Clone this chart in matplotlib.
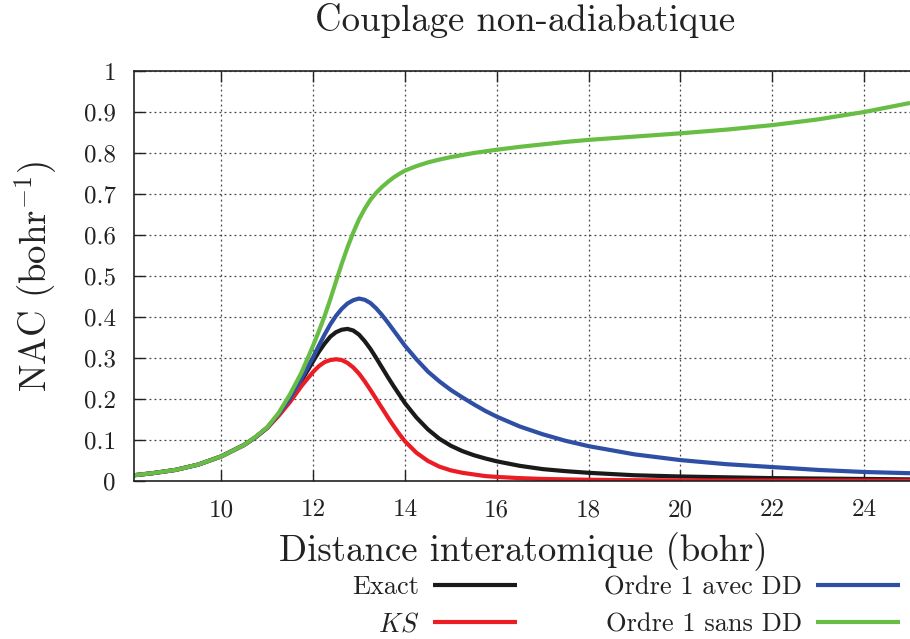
import matplotlib
matplotlib.use("Agg")
import matplotlib.pyplot as plt
from matplotlib.ticker import FuncFormatter, MultipleLocator

plt.rcParams['font.family'] = ['cmr10']
plt.rcParams['mathtext.fontset'] = 'cm'
plt.rcParams['axes.unicode_minus'] = False
plt.rcParams['axes.formatter.use_mathtext'] = True

# ---- data ----
x = [8.1, 8.5, 9, 9.5, 10, 10.5, 10.75, 11, 11.25, 11.5, 11.75,
     12, 12.125, 12.25, 12.375, 12.5, 12.625, 12.75, 12.875,
     13, 13.125, 13.25, 13.375, 13.5, 13.625, 13.75, 13.875,
     14, 14.25, 14.5, 14.75, 15, 15.25, 15.5, 15.75, 16, 16.5, 17, 17.5, 18,
     19, 20, 21, 22, 23, 24, 25]

exact = [0.014, 0.019, 0.027, 0.040, 0.060, 0.088, 0.107, 0.130, 0.162, 0.200, 0.245,
         0.292, 0.315, 0.335, 0.352, 0.363, 0.369, 0.371, 0.367,
         0.357, 0.341, 0.322, 0.300, 0.277, 0.254, 0.232, 0.211,
         0.190, 0.155, 0.126, 0.103, 0.086, 0.073, 0.063, 0.055, 0.048, 0.037, 0.029, 0.024, 0.020,
         0.014, 0.011, 0.009, 0.007, 0.006, 0.005, 0.004]

ks = [0.014, 0.019, 0.027, 0.040, 0.060, 0.088, 0.107, 0.129, 0.159, 0.193, 0.232,
      0.266, 0.280, 0.290, 0.295, 0.297, 0.295, 0.288, 0.277,
      0.262, 0.243, 0.222, 0.200, 0.178, 0.156, 0.135, 0.115,
      0.097, 0.069, 0.049, 0.035, 0.026, 0.020, 0.016, 0.012, 0.010, 0.007, 0.005, 0.004, 0.003,
      0.002, 0.0015, 0.001, 0.001, 0.001, 0.001, 0.001]

avec_dd = [0.014, 0.019, 0.027, 0.040, 0.060, 0.088, 0.107, 0.130, 0.163, 0.202, 0.250,
           0.302, 0.330, 0.357, 0.382, 0.403, 0.420, 0.433, 0.441,
           0.445, 0.442, 0.434, 0.421, 0.405, 0.387, 0.368, 0.349,
           0.330, 0.297, 0.267, 0.243, 0.222, 0.204, 0.187, 0.171, 0.157, 0.133, 0.114, 0.098, 0.085,
           0.065, 0.051, 0.041, 0.034, 0.027, 0.022, 0.019]

sans_dd = [0.014, 0.019, 0.027, 0.040, 0.060, 0.088, 0.108, 0.131, 0.166, 0.212, 0.265,
           0.330, 0.365, 0.402, 0.443, 0.487, 0.530, 0.570, 0.606,
           0.638, 0.664, 0.686, 0.703, 0.717, 0.729, 0.740, 0.749,
           0.757, 0.768, 0.777, 0.784, 0.790, 0.795, 0.800, 0.804, 0.808, 0.815, 0.821, 0.827, 0.832,
           0.840, 0.848, 0.857, 0.868, 0.882, 0.900, 0.922]

labels = ['Exact', r'$KS$', 'Ordre 1 avec DD', 'Ordre 1 sans DD']
colors = ['#1a1a1a', '#ec1c24', '#2f4fa5', '#68bd45']
series = [exact, ks, avec_dd, sans_dd]

title = 'Couplage non-adiabatique'
xlabel = 'Distance interatomique (bohr)'
ylabel = r'NAC (bohr$^{-1}$)'

# ---- figure ----
fig = plt.figure(figsize=(9.10, 6.39), dpi=100)
ax = fig.add_axes([134/910, 1-481/639, 776/910, 410/639])

for yv, c, lab in zip(series, colors, labels):
    ax.plot(x, yv, color=c, lw=3.0, label=lab, solid_capstyle='butt',
            solid_joinstyle='round')

ax.set_xlim(8.1, 25)
ax.set_ylim(0, 1)
ax.xaxis.set_major_locator(MultipleLocator(2))
ax.yaxis.set_major_locator(MultipleLocator(0.1))
ax.xaxis.set_major_formatter(FuncFormatter(lambda v, p: '%g' % v))
ax.yaxis.set_major_formatter(FuncFormatter(lambda v, p: '%g' % round(v, 2)))

ax.grid(True, color='#444444', linestyle=(0, (1.5, 2.5)), linewidth=0.9)
ax.tick_params(direction='in', length=8, width=1, top=True, right=False,
               labelsize=18, colors='#222222')
ax.tick_params(axis='y', pad=13)
ax.tick_params(axis='x', pad=13)
for s in ['left', 'bottom', 'top']:
    ax.spines[s].set_linewidth(1.2)
    ax.spines[s].set_color('#222222')
ax.spines['right'].set_visible(False)

ax.set_xlabel(xlabel, fontsize=26.5, va='center', color='#222222')
ax.xaxis.set_label_coords(0.502, -0.171)
ax.set_ylabel(ylabel, fontsize=26.5, va='center', color='#222222')
ax.yaxis.set_label_coords(-0.127, 0.5)

fig.text(525/910, 1-20/639, title, fontsize=26.5, ha='center', va='center',
         color='#222222')

leg = ax.legend(loc='center right', bbox_to_anchor=(900/910, 1-606/639),
                bbox_transform=fig.transFigure, ncol=2, markerfirst=False,
                frameon=False, fontsize=19, handlelength=3.2,
                handletextpad=0.5, columnspacing=3.3, labelspacing=0.5,
                borderpad=0, borderaxespad=0)
for t in leg.get_texts():
    t.set_color('#222222')

fig.savefig('out.png', dpi=100)
